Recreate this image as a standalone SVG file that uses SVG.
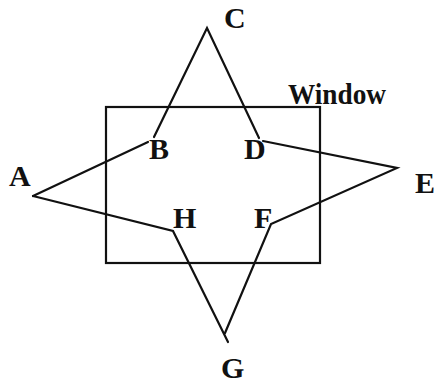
<svg xmlns="http://www.w3.org/2000/svg" width="436" height="383" viewBox="0 0 436 383">
<style>
.ln{fill:none;stroke:#111;stroke-width:2.2;stroke-linecap:round;stroke-linejoin:miter}
.lb{font-family:"Liberation Serif","Times New Roman",serif;font-weight:bold;font-size:30px;fill:#111}
</style>
<rect width="436" height="383" fill="#fff"/>
<g id="window">
<rect x="106" y="107" width="214" height="156" class="ln"/>
<text class="lb" x="288" y="104" textLength="98" lengthAdjust="spacingAndGlyphs">Window</text>
</g>
<g id="connectors">
<polyline class="ln" points="33,196 148,142"/>
<polyline class="ln" points="154,137 207,28 259,138"/>
<polyline class="ln" points="263,141 397,168 271,224 225,333"/>
<polyline class="ln" points="228,342 173,231 33,196"/>
</g>
<g id="A"><text class="lb" x="9" y="186">A</text></g>
<g id="B"><text class="lb" x="149" y="159">B</text></g>
<g id="C"><text class="lb" x="224" y="28">C</text></g>
<g id="D"><text class="lb" x="244" y="159">D</text></g>
<g id="E"><text class="lb" x="415" y="193">E</text></g>
<g id="F"><text class="lb" x="254" y="228">F</text></g>
<g id="G"><text class="lb" x="221" y="378">G</text></g>
<g id="H"><text class="lb" x="173" y="228">H</text></g>
</svg>
